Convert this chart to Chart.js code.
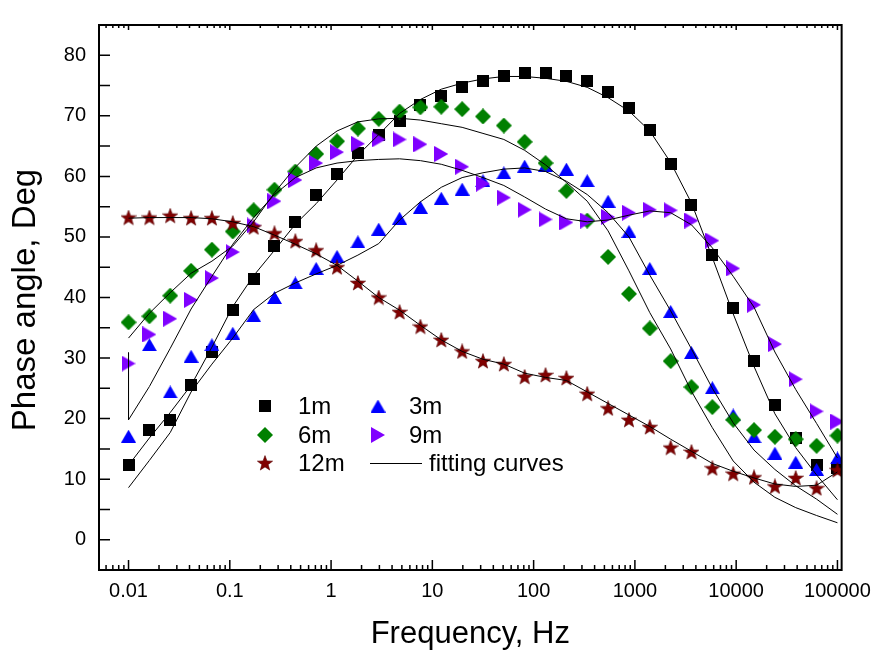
<!DOCTYPE html>
<html><head><meta charset="utf-8">
<script src="https://cdn.jsdelivr.net/npm/chart.js@4/dist/chart.umd.min.js"></script>
<style>html,body{margin:0;padding:0;background:#fff}#wrap{width:880px;height:651px;position:relative}</style>
</head><body><div id="wrap"><canvas id="c" width="880" height="651" style="width:880px;height:651px"></canvas></div>
<script>
// ---------------- data ----------------
const frequencies = [0.01, 0.01607, 0.02581, 0.04146, 0.0666, 0.107, 0.1719, 0.2762, 0.4437, 0.7128,
  1.145, 1.84, 2.955, 4.748, 7.627, 12.25, 19.68, 31.62, 50.8, 81.6, 131.1, 210.6, 338.4, 543.6,
  873.3, 1403, 2254, 3621, 5817, 9345, 15013, 24119, 38748, 62248, 100000];

const phase1m = [12.4, 18.2, 19.8, 25.5, 31.0, 38.0, 43.1, 48.5, 52.4, 57.0, 60.4, 63.8, 66.8, 69.2, 71.8, 73.2, 74.7, 75.8, 76.6, 77.0, 77.0, 76.6, 75.7, 73.9, 71.3, 67.6, 62.1, 55.3, 47.0, 38.3, 29.5, 22.2, 16.8, 12.3, 11.8];
const phase3m = [17.1, 32.2, 24.4, 30.3, 32.2, 34.1, 37.0, 40.0, 42.4, 44.8, 46.8, 49.2, 51.3, 53.1, 54.9, 56.4, 57.9, 59.3, 60.6, 61.7, 61.8, 61.2, 59.3, 55.9, 50.9, 44.8, 37.7, 30.9, 25.1, 20.6, 17.0, 14.3, 12.8, 11.6, 13.5];
const phase6m = [35.9, 36.9, 40.3, 44.4, 47.9, 50.9, 54.4, 57.8, 60.8, 63.7, 65.8, 67.9, 69.5, 70.7, 71.4, 71.5, 71.1, 69.9, 68.4, 65.7, 62.2, 57.6, 52.7, 46.7, 40.6, 34.9, 29.5, 25.2, 21.9, 19.8, 18.1, 17.0, 16.6, 15.5, 17.2];
const phase9m = [29.1, 33.9, 36.5, 39.6, 43.2, 47.5, 51.9, 55.9, 59.4, 62.2, 64.0, 65.4, 66.1, 66.1, 65.3, 63.7, 61.6, 58.8, 56.5, 54.5, 52.9, 52.4, 52.7, 53.3, 54.0, 54.5, 54.4, 52.7, 49.4, 44.8, 38.8, 32.3, 26.5, 21.2, 19.5];
const phase12m = [53.2, 53.2, 53.5, 53.1, 53.1, 52.3, 51.6, 50.6, 49.3, 47.8, 45.0, 42.4, 40.0, 37.6, 35.2, 33.0, 31.1, 29.5, 29.0, 26.9, 27.2, 26.7, 24.1, 21.7, 19.8, 18.6, 15.2, 14.5, 11.8, 10.9, 10.3, 8.8, 10.2, 8.5, 11.5];

const fit1m = [12.3, 16.8, 21.0, 25.5, 31.8, 38.5, 43.6, 47.8, 52.1, 55.5, 59.4, 63.5, 66.9, 70.4, 72.7, 74.4, 75.4, 76.1, 76.5, 76.5, 76.2, 75.7, 74.7, 73.0, 70.8, 67.5, 62.3, 55.6, 46.6, 37.3, 28.6, 20.8, 15.2, 10.7, 6.6];
const fit3m = [8.6, 13.1, 17.7, 24.4, 29.0, 33.3, 38.0, 40.7, 42.4, 43.9, 45.3, 47.0, 48.9, 52.8, 55.8, 58.2, 59.8, 60.6, 61.2, 61.4, 60.8, 59.2, 57.0, 54.0, 50.0, 43.7, 37.8, 31.5, 25.0, 19.3, 14.8, 11.6, 8.9, 6.7, 4.2];
const fit6m = [33.3, 37.4, 40.8, 44.0, 46.0, 48.5, 52.5, 57.3, 61.5, 65.0, 67.5, 69.0, 69.5, 69.6, 69.3, 68.7, 68.1, 67.1, 66.1, 64.3, 61.9, 59.0, 55.9, 51.0, 44.4, 37.5, 31.5, 24.5, 18.5, 13.0, 9.5, 7.0, 5.3, 4.0, 2.8];
const fit9mFrequencies = [0.01].concat(frequencies);
const fit9m = [30.9, 19.8, 25.3, 31.6, 38.1, 43.5, 48.8, 53.2, 57.0, 59.8, 61.4, 62.2, 62.6, 62.8, 62.9, 62.6, 62.0, 61.0, 59.8, 58.5, 56.6, 54.6, 53.0, 52.5, 52.8, 53.6, 54.3, 54.0, 52.0, 48.2, 43.5, 38.4, 31.0, 24.8, 19.2, 13.5];
const fit12m = [53.1, 53.2, 53.2, 53.2, 53.0, 52.5, 51.7, 50.3, 48.8, 47.2, 45.3, 42.7, 40.0, 37.9, 35.4, 33.0, 31.1, 29.8, 29.0, 27.5, 26.8, 26.3, 24.4, 22.5, 20.6, 18.7, 16.6, 14.6, 12.6, 11.3, 10.2, 9.2, 8.8, 9.0, 11.2];

const seriesNames = ['1m', '3m', '6m', '9m', '12m'];
const fitLabel = 'fitting curves';
const xTickValues = [0.01, 0.1, 1, 10, 100, 1000, 10000, 100000];
const xTickLabels = ['0.01', '0.1', '1', '10', '100', '1000', '10000', '100000'];
const yTickValues = [0, 10, 20, 30, 40, 50, 60, 70, 80];
const xTitle = 'Frequency, Hz';
const yTitle = 'Phase angle, Deg';

// ---------------- markers ----------------
function makeMarker(shape, color) {
  const c = document.createElement('canvas');
  const dims = {square: [12, 12], diamond: [16, 16], triUp: [15, 13], triRight: [14, 16], star: [16, 16]}[shape];
  c.width = dims[0]; c.height = dims[1];
  const g = c.getContext('2d');
  g.fillStyle = color;
  g.beginPath();
  if (shape === 'square') { g.rect(0, 0, 12, 12); }
  else if (shape === 'diamond') { g.moveTo(8, 0); g.lineTo(16, 8); g.lineTo(8, 16); g.lineTo(0, 8); }
  else if (shape === 'triUp') { g.moveTo(7.5, 0); g.lineTo(15, 13); g.lineTo(0, 13); }
  else if (shape === 'triRight') { g.moveTo(0, 0); g.lineTo(14, 8); g.lineTo(0, 16); }
  else if (shape === 'star') {
    const cx = 8, cy = 8.6, ro = 8, ri = 3.3;
    for (let k = 0; k < 10; k++) {
      const r = k % 2 ? ri : ro;
      const ang = -Math.PI / 2 + k * Math.PI / 5;
      const px = cx + r * Math.cos(ang), py = cy + r * Math.sin(ang);
      k ? g.lineTo(px, py) : g.moveTo(px, py);
    }
  }
  g.closePath();
  g.fill();
  if (shape === 'star') { g.strokeStyle = '#5a0000'; g.lineWidth = 0.6; g.stroke(); }
  return c;
}
const markers = {
  '1m': makeMarker('square', '#000000'),
  '3m': makeMarker('triUp', '#0000ff'),
  '6m': makeMarker('diamond', '#008000'),
  '9m': makeMarker('triRight', '#8000ff'),
  '12m': makeMarker('star', '#800000')
};

const pts = (xs, ys) => ys.map((v, i) => ({x: xs[i], y: v}));

function scatterSet(name, values, order) {
  return {label: name, data: pts(frequencies, values), showLine: false,
    pointStyle: markers[name], pointRadius: 8, pointHoverRadius: 8, order: order};
}
function fitSet(xs, values) {
  return {label: fitLabel, data: pts(xs, values), showLine: true, borderColor: '#000', borderWidth: 1,
    pointRadius: 0, pointHoverRadius: 0, tension: 0, order: 0, fill: false};
}

const FONT = '"Liberation Sans", Arial, sans-serif';

const decor = {
  id: 'decor',
  afterDraw(chart) {
    const {ctx, chartArea: a, scales: {x, y}} = chart;
    ctx.save();
    ctx.strokeStyle = '#000';
    ctx.lineWidth = 1.5;
    ctx.beginPath();
    for (let v = 0; v <= 80; v += 5) {
      const py = y.getPixelForValue(v);
      ctx.moveTo(a.left, py); ctx.lineTo(a.left + 11, py);
    }
    for (let e = -3; e <= 5; e++) {
      for (let m = 1; m <= 9; m++) {
        const f = m * Math.pow(10, e);
        if (f < x.min || f > x.max) continue;
        const px = x.getPixelForValue(f);
        const major = m === 1;
        ctx.moveTo(px, a.bottom); ctx.lineTo(px, a.bottom - (major ? 10 : 5));
        ctx.moveTo(px, a.top); ctx.lineTo(px, a.top + (major ? 5 : 3));
      }
    }
    ctx.stroke();
    ctx.lineWidth = 2;
    ctx.strokeRect(a.left, a.top, a.right - a.left, a.bottom - a.top);

    // axis titles
    ctx.fillStyle = '#000';
    ctx.textAlign = 'center';
    ctx.textBaseline = 'middle';
    ctx.font = '31px ' + FONT;
    ctx.fillText(xTitle, (a.left + a.right) / 2, 634);
    ctx.save();
    ctx.translate(26, 300);
    ctx.rotate(-Math.PI / 2);
    ctx.font = '33px ' + FONT;
    ctx.fillText(yTitle, 0, 0);
    ctx.restore();

    // legend
    const items = [
      {name: '1m', cx: 265, cy: 406, tx: 298},
      {name: '3m', cx: 378, cy: 406, tx: 409},
      {name: '6m', cx: 265, cy: 435, tx: 298},
      {name: '9m', cx: 378, cy: 435, tx: 409},
      {name: '12m', cx: 265, cy: 463, tx: 298}
    ];
    ctx.font = '24px ' + FONT;
    ctx.textAlign = 'left';
    items.forEach(it => {
      const m = markers[it.name];
      ctx.drawImage(m, it.cx - m.width / 2, it.cy - m.height / 2);
      ctx.fillText(it.name, it.tx, it.cy + 1);
    });
    ctx.lineWidth = 1;
    ctx.beginPath(); ctx.moveTo(370, 463.5); ctx.lineTo(422, 463.5); ctx.stroke();
    ctx.fillText(fitLabel, 429, 464);
    ctx.restore();
  }
};

Chart.defaults.font.family = FONT;
Chart.defaults.color = '#000';

new Chart(document.getElementById('c'), {
  type: 'scatter',
  data: {
    datasets: [
      scatterSet('1m', phase1m, 5),
      scatterSet('3m', phase3m, 4),
      scatterSet('6m', phase6m, 3),
      scatterSet('9m', phase9m, 2),
      scatterSet('12m', phase12m, 1),
      fitSet(frequencies, fit1m),
      fitSet(frequencies, fit3m),
      fitSet(frequencies, fit6m),
      fitSet(fit9mFrequencies, fit9m),
      fitSet(frequencies, fit12m)
    ]
  },
  options: {
    responsive: false,
    animation: false,
    devicePixelRatio: 1,
    layout: {padding: {top: 13, right: 33, left: 0, bottom: 0}},
    plugins: {legend: {display: false}, tooltip: {enabled: false}},
    events: [],
    scales: {
      x: {
        type: 'logarithmic', min: 0.00511, max: 110000,
        grid: {display: false, drawTicks: false}, border: {display: false},
        afterFit: s => { s.height = 81; },
        afterBuildTicks: s => { s.ticks = xTickValues.map(v => ({value: v})); },
        ticks: {autoSkip: false, maxRotation: 0, padding: 9, font: {size: 20},
          callback: (v, i) => xTickLabels[i]}
      },
      y: {
        type: 'linear', min: -5, max: 85,
        grid: {display: false, drawTicks: false}, border: {display: false},
        afterFit: s => { s.width = 99; },
        afterBuildTicks: s => { s.ticks = yTickValues.map(v => ({value: v})); },
        ticks: {padding: 13, font: {size: 20}, callback: v => String(v)}
      }
    }
  },
  plugins: [decor]
});
</script></body></html>
